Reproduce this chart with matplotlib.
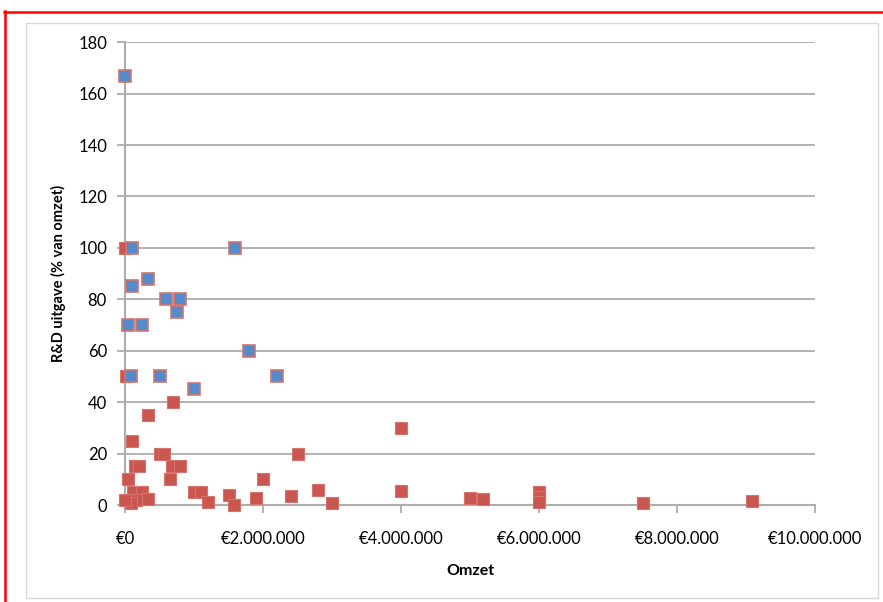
import matplotlib.pyplot as plt
from matplotlib.patches import Rectangle
from matplotlib.lines import Line2D
from matplotlib.ticker import FuncFormatter

plt.rcParams['font.family'] = ['Lato', 'DejaVu Sans']

# omzet (euro) en R&D uitgave (% van omzet)
red_x = [0, 15000, 700000, 330000, 100000, 500000, 570000, 2500000,
         150000, 200000, 680000, 800000, 40000, 650000, 2000000,
         110000, 240000, 30000, 160000, 340000, 80000, 0,
         1000000, 1100000, 1200000, 1500000, 1580000, 1900000, 2400000,
         2800000, 3000000, 4000000, 4000000, 5000000, 5190000,
         6000000, 6000000, 6000000, 7500000, 9090000]
red_y = [100, 50, 40, 35, 25, 20, 20, 20,
         15, 15, 15, 15, 10, 10, 10,
         5, 5, 2, 2, 2.5, 0.8, 2,
         5, 5, 1, 3.9, 0, 2.6, 3.6,
         6, 0.7, 30, 5.6, 2.6, 2.2,
         5, 3, 1, 0.7, 1.5]

blue_x = [0, 100000, 1600000, 340000, 100000, 600000, 800000, 750000,
          40000, 250000, 1800000, 80000, 500000, 2200000, 1000000]
blue_y = [167, 100, 100, 88, 85, 80, 80, 75,
          70, 70, 60, 50, 50, 50, 45]

fig = plt.figure(figsize=(8.83, 6.02), dpi=100)
ax = fig.add_axes([0.1416, 0.1611, 0.7814, 0.7689])

red = '#C9564F'
blue = '#548BCB'
ax.plot(red_x, red_y, 's', color=red, markersize=8.7, markeredgecolor='#D7726C',
        markeredgewidth=0.8, linestyle='none', zorder=3, clip_on=False)
ax.plot(blue_x, blue_y, 's', color=blue, markersize=8.7, markeredgecolor='#D7726C',
        markeredgewidth=1.2, linestyle='none', zorder=4, clip_on=False)

ax.set_xlim(0, 10000000)
ax.set_ylim(0, 180)
ax.set_xticks(range(0, 10000001, 2000000))
ax.set_yticks(range(0, 181, 20))
ax.xaxis.set_major_formatter(FuncFormatter(lambda v, p: '€' + f'{int(v):,}'.replace(',', '.')))

ax.grid(axis='y', color='#ADADAD', linewidth=1.3, zorder=0)
ax.set_axisbelow(True)
for s in ['top', 'right']:
    ax.spines[s].set_visible(False)
for s in ['left', 'bottom']:
    ax.spines[s].set_color('#ADADAD')
    ax.spines[s].set_linewidth(1.5)
ax.tick_params(axis='both', colors='#ADADAD', labelcolor='black', labelsize=12,
               length=6, width=1.3)
ax.tick_params(axis='x', pad=13)
ax.tick_params(axis='y', pad=7)

ax.set_xlabel('Omzet', fontsize=11.5, fontweight='bold', labelpad=12)
ax.set_ylabel('R&D uitgave (% van omzet)', fontsize=10.5, fontweight='bold', labelpad=9)

# chart area border and red frame
fig.patches.append(Rectangle((26 / 883, 4 / 602), 852 / 883, 575 / 602,
                             transform=fig.transFigure, fill=False,
                             edgecolor='#D9D9D9', linewidth=1.0))
fig.lines.append(Line2D([4 / 883, 1], [1 - 11.5 / 602, 1 - 11.5 / 602],
                        transform=fig.transFigure, color='red', linewidth=1.8))
fig.lines.append(Line2D([4.5 / 883, 4.5 / 883], [0, 1 - 11 / 602],
                        transform=fig.transFigure, color='red', linewidth=1.8))

fig.savefig('out.png', dpi=100)
